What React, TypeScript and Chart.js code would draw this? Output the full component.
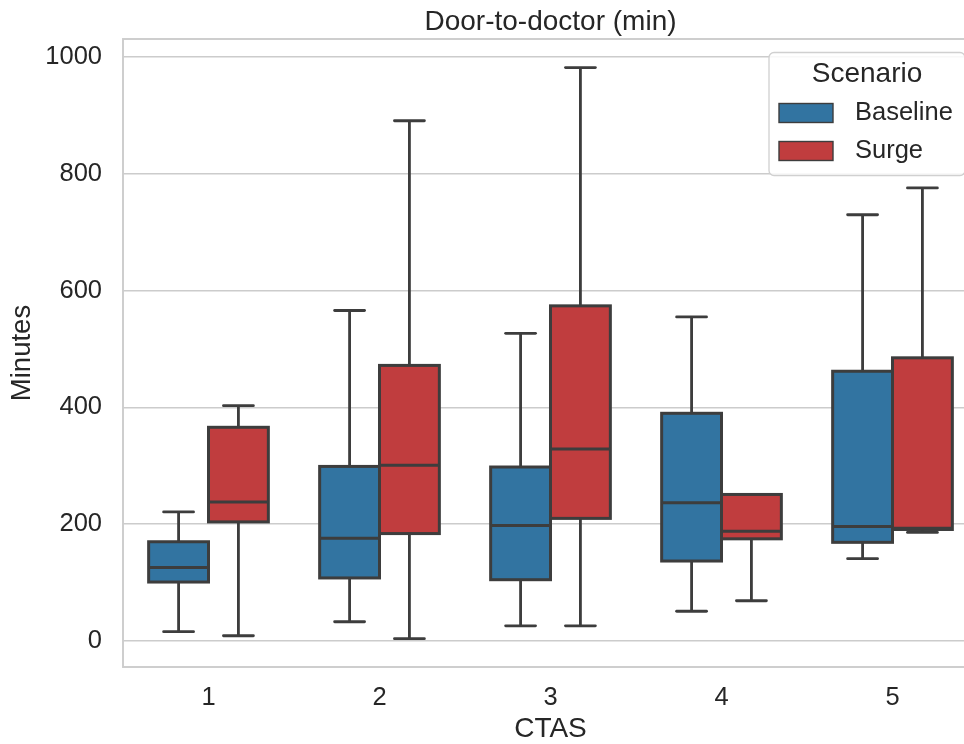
import React, { useEffect, useRef } from 'react';
import { Chart, registerables } from 'chart.js';

Chart.register(...registerables);

// ---- data ----
const categories = ['1', '2', '3', '4', '5'];
const seriesNames = ['Baseline', 'Surge'];
const yTicks = [0, 200, 400, 600, 800, 1000];

const baselineMin = [16, 33, 26, 51, 141];
const baselineQ1 = [101, 108, 105, 137, 169];
const baselineMedian = [126, 176, 198, 237, 196];
const baselineQ3 = [170, 299, 298, 390, 462];
const baselineMax = [221, 566, 527, 555, 730];

const surgeMin = [9, 4, 26, 69, 186];
const surgeQ1 = [204, 184, 210, 175, 191];
const surgeMedian = [238, 301, 329, 188, 193];
const surgeQ3 = [366, 472, 574, 251, 485];
const surgeMax = [403, 891, 982, 251, 776];

// ---- styles ----
const FONT = '"Liberation Sans", Arial, Helvetica, sans-serif';
const TEXT = '#262626';
const LINE = '#3d3d3d';
const GRID = '#cccccc';
const COLORS = ['#3274a1', '#c03d3e'];

const boxStats = [
  { min: baselineMin, q1: baselineQ1, med: baselineMedian, q3: baselineQ3, max: baselineMax },
  { min: surgeMin, q1: surgeQ1, med: surgeMedian, q3: surgeQ3, max: surgeMax },
];

const framePlugin = {
  id: 'frame',
  beforeDatasetsDraw(chart: any) {
    const { ctx, chartArea: a } = chart;
    ctx.save();
    ctx.strokeStyle = GRID;
    ctx.lineWidth = 1.9;
    ctx.strokeRect(a.left, a.top, a.right - a.left, a.bottom - a.top);
    ctx.restore();
  },
};

const boxPlugin = {
  id: 'boxWhiskers',
  afterDatasetsDraw(chart: any) {
    const ctx = chart.ctx;
    const ys = chart.scales.y;
    ctx.save();
    ctx.strokeStyle = LINE;
    const seg = (x1: number, y1: number, x2: number, y2: number) => {
      ctx.beginPath();
      ctx.moveTo(x1, y1);
      ctx.lineTo(x2, y2);
      ctx.stroke();
    };
    boxStats.forEach((st, di) => {
      const meta = chart.getDatasetMeta(di);
      meta.data.forEach((bar: any, i: number) => {
        const { x, width } = bar.getProps(['x', 'width'], true);
        const left = x - width / 2;
        const right = x + width / 2;
        const pMin = ys.getPixelForValue(st.min[i]);
        const pQ1 = ys.getPixelForValue(st.q1[i]);
        const pMed = ys.getPixelForValue(st.med[i]);
        const pQ3 = ys.getPixelForValue(st.q3[i]);
        const pMax = ys.getPixelForValue(st.max[i]);
        ctx.lineWidth = 2.8;
        ctx.lineCap = 'butt';
        if (pMax < pQ3) seg(x, pQ3, x, pMax);
        if (pMin > pQ1) seg(x, pQ1, x, pMin);
        ctx.lineCap = 'round';
        const cw = width / 4;
        if (pMax < pQ3) seg(x - cw, pMax, x + cw, pMax);
        seg(x - cw, pMin, x + cw, pMin);
        ctx.lineCap = 'butt';
        ctx.lineJoin = 'miter';
        ctx.lineWidth = 3;
        ctx.strokeRect(left, pQ3, width, pQ1 - pQ3);
        seg(left, pMed, right, pMed);
      });
    });
    ctx.restore();
  },
};

const titleLegendPlugin = {
  id: 'titleLegend',
  afterDraw(chart: any) {
    const { ctx, chartArea: a } = chart;
    ctx.save();
    // title
    ctx.fillStyle = TEXT;
    ctx.font = `28px ${FONT}`;
    ctx.textAlign = 'center';
    ctx.textBaseline = 'middle';
    ctx.fillText('Door-to-doctor (min)', (a.left + a.right) / 2, 22);

    // legend
    const right = a.right - 13;
    const top = a.top + 13.5;
    const w = 196;
    const h = 123;
    const left = right - w;
    ctx.beginPath();
    ctx.roundRect(left, top, w, h, 5);
    ctx.fillStyle = 'rgba(255,255,255,0.85)';
    ctx.fill();
    ctx.strokeStyle = '#d0d0d0';
    ctx.lineWidth = 1.3;
    ctx.stroke();

    ctx.fillStyle = TEXT;
    ctx.font = `28px ${FONT}`;
    ctx.textAlign = 'center';
    ctx.fillText('Scenario', left + w / 2, top + 21.5);

    ctx.font = `25.5px ${FONT}`;
    ctx.textAlign = 'left';
    seriesNames.forEach((name, i) => {
      const cy = top + 60.5 + i * 38;
      ctx.fillStyle = COLORS[i];
      ctx.fillRect(left + 10, cy - 9.5, 54, 19);
      ctx.strokeStyle = LINE;
      ctx.lineWidth = 1.4;
      ctx.strokeRect(left + 10, cy - 9.5, 54, 19);
      ctx.fillStyle = TEXT;
      ctx.fillText(name, left + 86, cy);
    });
    ctx.restore();
  },
};

export default function App() {
  const canvasRef = useRef<HTMLCanvasElement | null>(null);

  useEffect(() => {
    document.body.style.overflow = 'hidden';
    document.documentElement.style.overflow = 'hidden';
    const canvas = canvasRef.current;
    if (!canvas) return;
    Chart.defaults.font.family = FONT;
    Chart.defaults.color = TEXT;

    const chart = new Chart(canvas, {
      type: 'bar',
      data: {
        labels: categories,
        datasets: [
          {
            label: seriesNames[0],
            data: baselineQ1.map((v, i) => [v, baselineQ3[i]]) as any,
            backgroundColor: COLORS[0],
            borderWidth: 0,
            categoryPercentage: 0.7,
            barPercentage: 1.0,
          },
          {
            label: seriesNames[1],
            data: surgeQ1.map((v, i) => [v, surgeQ3[i]]) as any,
            backgroundColor: COLORS[1],
            borderWidth: 0,
            categoryPercentage: 0.7,
            barPercentage: 1.0,
          },
        ],
      },
      options: {
        animation: false,
        responsive: false,
        devicePixelRatio: 1,
        layout: { padding: { left: 0, right: 12, top: 39, bottom: 0 } },
        plugins: {
          legend: { display: false },
          tooltip: { enabled: false },
          title: { display: false },
        },
        scales: {
          x: {
            type: 'category',
            offset: true,
            grid: { display: false, drawTicks: false },
            border: { display: false },
            ticks: { color: TEXT, font: { size: 25.5, family: FONT }, padding: 16 },
            title: {
              display: true,
              text: 'CTAS',
              color: TEXT,
              font: { size: 28, family: FONT },
              padding: { top: 0, bottom: -2 },
            },
            afterFit: (scale: any) => {
              scale.height = 77;
            },
          },
          y: {
            type: 'linear',
            min: -44.5,
            max: 1031,
            grid: { color: GRID, lineWidth: 1.5, drawTicks: false },
            border: { display: false },
            ticks: {
              color: TEXT,
              font: { size: 25.5, family: FONT },
              padding: 21,
              stepSize: 200,
              callback: (value: any) => String(value),
            },
            afterBuildTicks: (scale: any) => {
              scale.ticks = yTicks.map((v) => ({ value: v }));
            },
            title: {
              display: true,
              text: 'Minutes',
              color: TEXT,
              font: { size: 27.5, family: FONT },
              padding: { top: 6, bottom: 0 },
            },
            afterFit: (scale: any) => {
              scale.width = 123;
            },
          },
        },
      },
      plugins: [framePlugin, boxPlugin, titleLegendPlugin],
    });
    return () => chart.destroy();
  }, []);

  return (
    <div style={{ position: 'absolute', left: 0, top: 0, width: 990, height: 744, background: '#ffffff' }}>
      <canvas ref={canvasRef} width={990} height={744} style={{ display: 'block' }} />
    </div>
  );
}
